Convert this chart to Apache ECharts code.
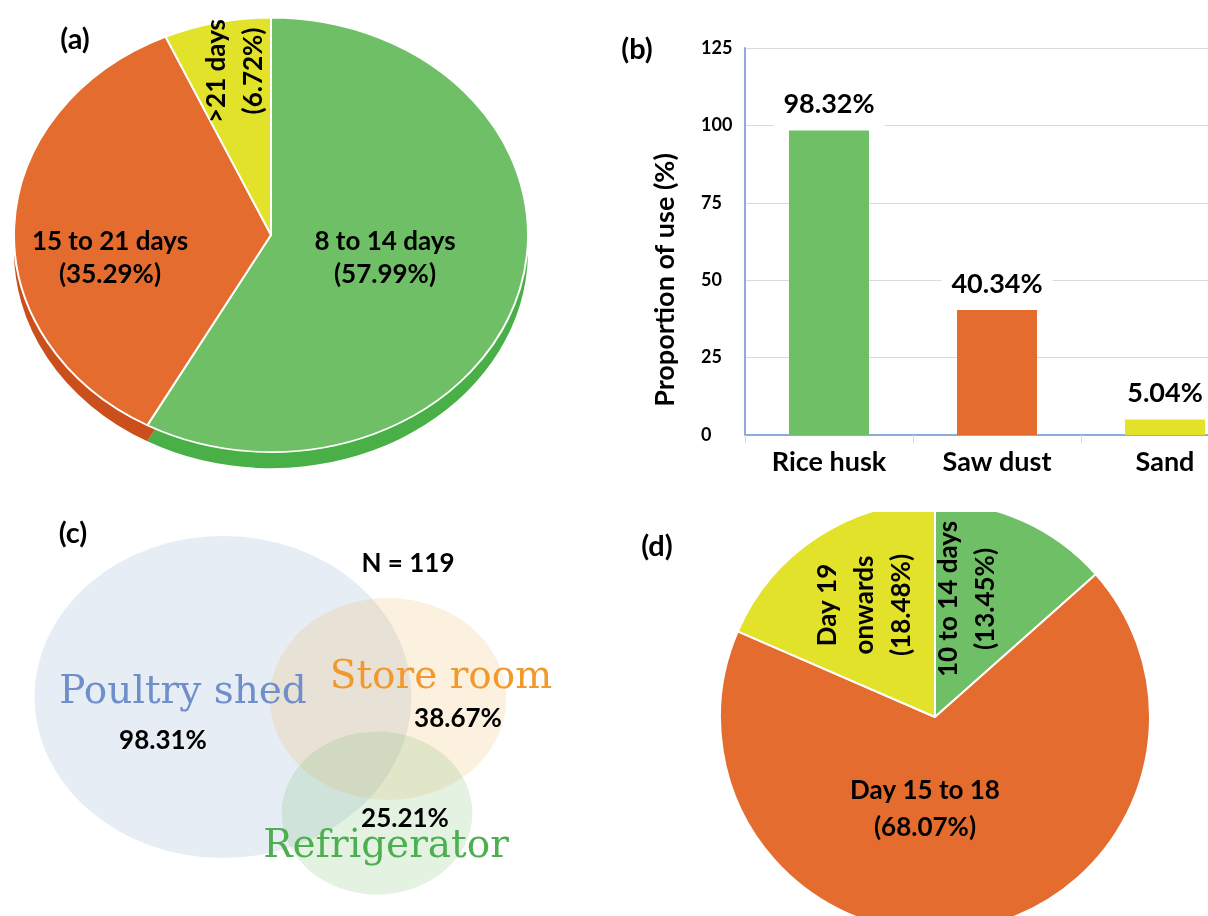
<!DOCTYPE html>
<html>
<head>
<meta charset="utf-8">
<script src="https://cdn.jsdelivr.net/npm/echarts@6/dist/echarts.min.js"></script>
<style>
  html, body { margin: 0; padding: 0; background: #fff; }
  /* pie (a) is drawn round, then squashed into an ellipse */
  #pieA { position: absolute; left: 0; top: 0; width: 560px; height: 560px; transform: scaleY(0.845); transform-origin: 0 0; }
  #main { position: absolute; left: 0; top: 0; width: 1208px; height: 916px; }
</style>
</head>
<body>
<div id="pieA"></div>
<div id="main"></div>
<script>
// (a) storage duration
const storageCats = ['8 to 14 days', '15 to 21 days', '>21 days'];
const storageVals = [57.99, 35.29, 6.72];
// (b) material used
const materialCats = ['Rice husk', 'Saw dust', 'Sand'];
const materialVals = [98.32, 40.34, 5.04];
// (c) storage place
const placeCats = ['Poultry shed', 'Store room', 'Refrigerator'];
const placeVals = [98.31, 38.67, 25.21];
const sampleSize = 119;
// (d) turning stopped
const turnCats = ['10 to 14 days', 'Day 15 to 18', 'Day 19\nonwards'];
const turnVals = [13.45, 68.07, 18.48];

const GREEN = '#6fbf67', ORANGE = '#e46c2f', YELLOW = '#e2e22a';
const TOP = [GREEN, ORANGE, YELLOW];
const SIDE = ['#49af47', '#cb4f1d', '#c9c923'];
const FONT = 'Lato';
const pct = v => '(' + v.toFixed(2) + '%)';

// ---------- pie (a) ----------
const chartA = echarts.init(document.getElementById('pieA'), null, { renderer: 'svg' });
chartA.setOption({
  animation: false,
  series: [
    {
      // side of the disc
      type: 'pie', silent: true,
      center: [271, 297], radius: 257, startAngle: 90,
      label: { show: false },
      itemStyle: { borderWidth: 0, color: p => SIDE[p.dataIndex] },
      data: storageVals.map((v, i) => ({ name: storageCats[i], value: v }))
    },
    {
      type: 'pie', silent: true,
      center: [271, 278], radius: 257, startAngle: 90,
      label: { show: false },
      itemStyle: { borderColor: '#fff', borderWidth: 2, color: p => TOP[p.dataIndex] },
      data: storageVals.map((v, i) => ({ name: storageCats[i], value: v }))
    }
  ]
});

// label spots for (a) and (d)
const aLabelPos = [[385, 258, 0], [110, 258, 0], [235, 71, 90]];
const dLabelPos = [[967, 599, 90], [925, 809, 0], [865, 605, 90]];
// venn layout (centres only, sizes come from the values)
const vennPos = [[223, 697], [388, 699], [377, 813]];
const vennFill = ['rgba(143,170,210,0.27)', 'rgba(240,180,90,0.25)', 'rgba(120,190,110,0.25)'];
const vennText = ['#6f8fcb', '#f2992e', '#4caf50'];
const vennNamePos = [[183, 693], [441, 678], [386, 847]];
const vennValPos = [[163, 741], [458, 719], [405, 819]];

function txt(x, y, text, opts) {
  opts = opts || {};
  return {
    type: 'text', x: x, y: y,
    rotation: (opts.rot || 0) * Math.PI / 180,
    z: 100,
    style: {
      text: text, x: 0, y: 0,
      fill: opts.color || '#000',
      font: opts.font || ('bold 26px ' + FONT),
      lineHeight: opts.lh || 34,
      align: 'center', verticalAlign: 'middle',
      textAlign: 'center', textVerticalAlign: 'middle'
    }
  };
}

const graphics = [
  // panel (d) picture is cut off at the top in the original
  { type: 'rect', z: 50, shape: { x: 700, y: 486, width: 480, height: 26 }, style: { fill: '#fff' } },
  txt(75, 40, '(a)', { font: 'bold 29px ' + FONT }),
  txt(637, 50, '(b)', { font: 'bold 29px ' + FONT }),
  txt(73, 534, '(c)', { font: 'bold 29px ' + FONT }),
  txt(657, 547, '(d)', { font: 'bold 29px ' + FONT }),
  txt(408, 564, 'N = ' + sampleSize),
  txt(665, 280, 'Proportion of use (%)', { rot: 90, font: 'bold 27px ' + FONT })
];
storageCats.forEach((c, i) => {
  const p = aLabelPos[i];
  graphics.push(txt(p[0], p[1], c + '\n' + pct(storageVals[i]), { rot: p[2], lh: p[2] ? 37 : 33 }));
});
placeCats.forEach((c, i) => {
  graphics.push(txt(vennNamePos[i][0], vennNamePos[i][1], c,
    { color: vennText[i], font: '39px "DejaVu Serif"' }));
  graphics.push(txt(vennValPos[i][0], vennValPos[i][1], placeVals[i].toFixed(2) + '%'));
});

// ---------- main chart: (b), (c), (d) ----------
const chart = echarts.init(document.getElementById('main'));
chart.setOption({
  animation: false,
  backgroundColor: 'transparent',
  textStyle: { fontFamily: FONT },
  grid: [
    { left: 745, top: 48, width: 504, height: 387, outerBoundsMode: 'none', containLabel: false },
    { left: 0, top: 0, width: 1208, height: 916, outerBoundsMode: 'none' }
  ],
  xAxis: [
    {
      type: 'category', gridIndex: 0, data: materialCats,
      axisLine: { lineStyle: { color: '#8faadc', width: 2 } },
      axisTick: { show: true, length: 8, lineStyle: { color: '#d9d9d9' } },
      axisLabel: { color: '#000', fontWeight: 'bold', fontSize: 27, margin: 14 }
    },
    { type: 'value', gridIndex: 1, min: 0, max: 1208, show: false }
  ],
  yAxis: [
    {
      type: 'value', gridIndex: 0, min: 0, max: 125, interval: 25,
      axisLine: { show: true, lineStyle: { color: '#8faadc', width: 2 } },
      axisTick: { show: false },
      splitLine: { lineStyle: { color: '#d9d9d9' } },
      axisLabel: { color: '#000', fontWeight: 'bold', fontSize: 18, align: 'left', margin: 44 }
    },
    { type: 'value', gridIndex: 1, min: 0, max: 916, inverse: true, show: false }
  ],
  series: [
    {
      type: 'bar', xAxisIndex: 0, yAxisIndex: 0, barWidth: 80,
      data: materialVals,
      itemStyle: { color: p => TOP[p.dataIndex] },
      label: {
        show: true, position: 'top', distance: 3,
        formatter: p => p.value.toFixed(2) + '%',
        color: '#000', fontWeight: 'bold', fontSize: 27,
        backgroundColor: '#fff', padding: [6, 10, 9, 10], lineHeight: 28
      }
    },
    {
      type: 'scatter', xAxisIndex: 1, yAxisIndex: 1, silent: true,
      symbol: 'circle',
      symbolSize: d => { const w = 38 * Math.sqrt(d[2]); return [w, w / 1.17]; },
      data: placeVals.map((v, i) => [vennPos[i][0], vennPos[i][1], v]),
      itemStyle: { color: p => vennFill[p.dataIndex] }
    },
    {
      type: 'pie', silent: true,
      center: [935, 717], radius: 215, startAngle: 90,
      itemStyle: { borderColor: '#fff', borderWidth: 2, color: p => TOP[p.dataIndex] },
      label: {
        show: true, position: 'inside',
        formatter: p => p.name + '\n' + pct(p.value),
        color: '#000', fontWeight: 'bold', fontSize: 26, lineHeight: 37
      },
      labelLayout: p => {
        const L = dLabelPos[p.dataIndex];
        return { x: L[0], y: L[1], rotate: L[2], align: 'center', verticalAlign: 'middle' };
      },
      data: turnVals.map((v, i) => ({ name: turnCats[i], value: v }))
    }
  ],
  graphic: graphics
});
</script>
</body>
</html>
